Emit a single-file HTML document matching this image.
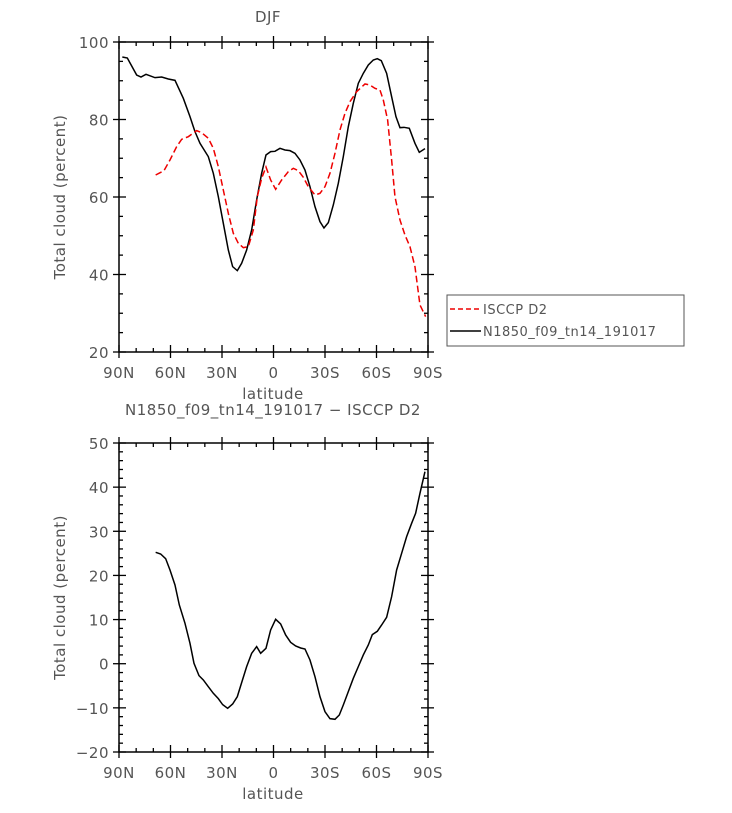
<!DOCTYPE html><html><head><style>body{margin:0;background:#fff}svg text{font-family:"DejaVu Sans","Liberation Sans",sans-serif;fill:#555;letter-spacing:0.5px}</style></head><body>
<svg id="s" width="732" height="808" xmlns="http://www.w3.org/2000/svg">
<text x="268" y="22" font-size="15" text-anchor="middle">DJF</text>
<text x="273" y="415" font-size="15" text-anchor="middle">N1850_f09_tn14_191017 − ISCCP D2</text>
<rect x="447" y="295" width="237" height="51" fill="none" stroke="#555"/>
<line x1="450" y1="309" x2="481" y2="309" stroke="#e00" stroke-width="1.5" stroke-dasharray="5,3"/>
<line x1="450" y1="331" x2="481" y2="331" stroke="#000" stroke-width="1.5"/>
<text x="483" y="314" font-size="13">ISCCP D2</text>
<text x="483" y="336" font-size="13">N1850_f09_tn14_191017</text>
<g transform="translate(40,20) scale(0.3333)" fill="none" stroke-width="4.5">
<polyline stroke="#000" points="247,111 262,114 290,165 303,171 318,163 345,173 365,171 385,177 405,181 430,235 450,290 465,335 480,370 505,410 520,460 535,530 550,610 565,690 578,740 592,752 605,730 620,690 635,630 650,540 665,460 678,405 692,395 705,394 720,385 735,390 750,392 765,400 780,420 795,450 810,500 825,560 840,605 852,624 865,608 880,555 895,490 910,410 925,320 940,250 955,190 970,160 985,135 1000,120 1012,116 1024,122 1040,160 1055,230 1068,290 1080,323 1092,322 1108,325 1125,370 1138,397 1155,386"/>
<polyline stroke="#e00" stroke-dasharray="20,10" points="347,465 372,452 390,420 410,380 425,358 445,350 470,332 485,338 505,355 520,385 535,440 550,510 565,580 580,640 595,670 610,683 625,680 640,630 652,530 665,475 678,441 692,480 707,508 725,480 745,455 760,445 775,452 790,472 805,500 825,525 840,520 855,500 870,460 885,400 900,330 915,280 930,245 950,215 975,192 990,195 1005,205 1020,210 1030,240 1043,300 1055,420 1065,530 1080,600 1095,645 1110,680 1125,740 1140,855 1157,890"/>
</g>
<g transform="translate(40,400) scale(0.3333)" fill="none" stroke-width="4.5">
<polyline stroke="#000" points="347,457 362,462 377,476 390,510 405,555 418,615 435,670 450,730 462,790 477,827 490,840 505,860 520,880 535,896 548,914 563,925 578,912 592,890 605,848 620,800 635,760 650,740 662,760 678,745 692,690 707,658 722,672 737,705 752,727 767,738 782,744 795,747 810,780 825,830 840,890 855,935 870,956 885,958 898,945 910,915 925,875 940,835 955,800 970,765 985,735 997,704 1012,694 1025,675 1040,652 1055,590 1070,510 1085,460 1100,410 1115,370 1127,340 1140,280 1155,215"/>
</g>
</svg>
<script>
var s=document.getElementById('s'),ns='http://www.w3.org/2000/svg';
function el(t,a,txt){var e=document.createElementNS(ns,t);for(var k in a)e.setAttribute(k,a[k]);if(txt!==undefined)e.textContent=txt;s.appendChild(e);return e;}
function ln(x1,y1,x2,y2){el('line',{x1:x1,y1:y1,x2:x2,y2:y2,stroke:'#000','stroke-width':1.3});}
function plot(top,bot,vmax,vmin,maj,mn){
 var L=119,R=428;
 el('rect',{x:L,y:top,width:R-L,height:bot-top,fill:'none',stroke:'#000','stroke-width':1.5});
 var xl=['90N','60N','30N','0','30S','60S','90S'];
 for(var i=0;i<=18;i++){var x=L+(R-L)*i/18;
  if(i%3==0){ln(x,bot-7,x,bot+6);ln(x,top-6,x,top+7);el('text',{x:x,y:bot+26,'font-size':15,'text-anchor':'middle'},xl[i/3]);}
  else{ln(x,bot,x,bot-4);ln(x,top,x,top+4);}}
 el('text',{x:273,y:bot+47,'font-size':15,'text-anchor':'middle'},'latitude');
 for(var v=vmin;v<=vmax+1e-9;v+=mn){var y=bot-(v-vmin)/(vmax-vmin)*(bot-top);
  if(Math.abs(v/maj-Math.round(v/maj))<1e-6){ln(L-6,y,L+7,y);ln(R-7,y,R+6,y);el('text',{x:L-10,y:y+6,'font-size':15,'text-anchor':'end'},(v<0?'−'+(-v):''+v));}
  else{ln(L,y,L+4,y);ln(R,y,R-4,y);}}
 var cy=(top+bot)/2;el('text',{x:65,y:cy,'font-size':15,'text-anchor':'middle',transform:'rotate(-90 65 '+cy+')'},'Total cloud (percent)');
}
plot(42,352,100,20,20,5);
plot(443,752,50,-20,10,2);
</script>
</body></html>
